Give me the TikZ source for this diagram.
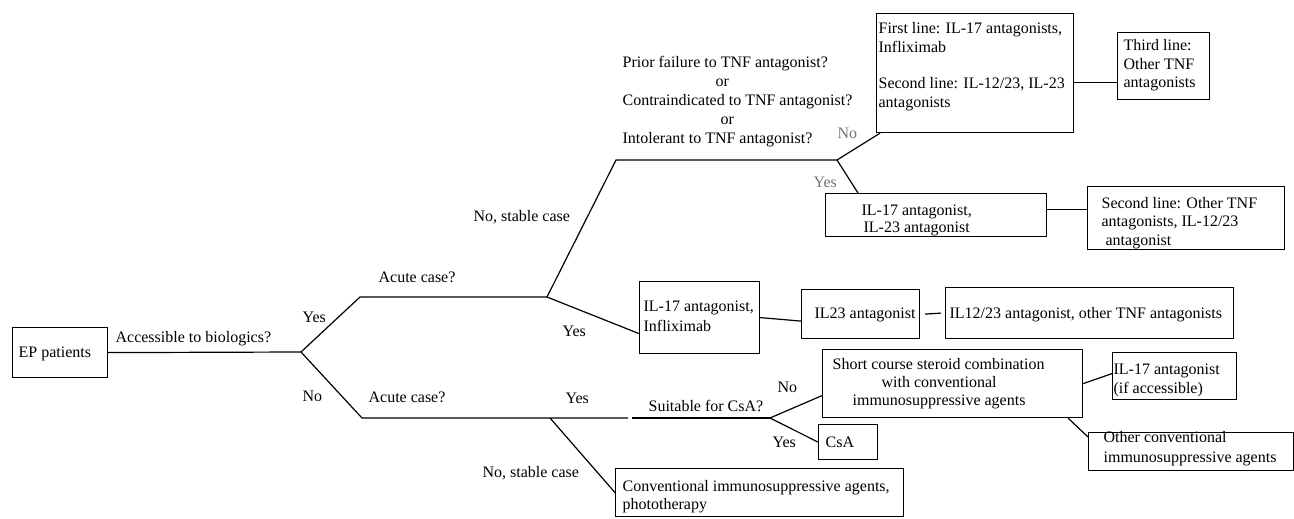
\documentclass[tikz,border=0pt]{standalone}
\usepackage{fontspec}
\setmainfont{Liberation Serif}
\begin{document}
\begin{tikzpicture}[x=1pt, y=-1pt, line width=1.2pt,
  frame/.style={draw, inner sep=0, anchor=north west},
  txt/.style={inner sep=0, anchor=base west, align=left, font=\fontsize{16}{19}\selectfont},
  faint/.style={text=black!55}]
\useasboundingbox (0,0) rectangle (1294,519);

% boxes
\node[frame, minimum width=95pt, minimum height=50pt] (ep) at (12,327) {};
\node[frame, minimum width=120pt, minimum height=72pt] (ila) at (639,281) {};
\node[frame, minimum width=118pt, minimum height=49pt] (il23) at (801,289) {};
\node[frame, minimum width=288pt, minimum height=51pt] (il1223) at (945,287) {};
\node[frame, minimum width=197pt, minimum height=119pt] (first) at (876,13) {};
\node[frame, minimum width=92pt, minimum height=67pt] (third) at (1117,32) {};
\node[frame, minimum width=221pt, minimum height=43pt] (il17il23) at (825,193) {};
\node[frame, minimum width=197pt, minimum height=63pt] (second) at (1087,186) {};
\node[frame, minimum width=260pt, minimum height=68pt] (short) at (822,349) {};
\node[frame, minimum width=59pt, minimum height=35pt] (csa) at (818,424) {};
\node[frame, minimum width=124pt, minimum height=47pt] (il17acc) at (1112,352) {};
\node[frame, minimum width=205pt, minimum height=38pt] (otherconv) at (1088,432) {};
\node[frame, minimum width=288pt, minimum height=48pt] (conv) at (615,468) {};

% box texts (multi-line ones sit on the baseline of their last line)
\node[txt] (tep) at (18,357) {EP patients};
\node[txt, font=\fontsize{16}{20}\selectfont] (tila) at (643,331) {IL-17 antagonist,\\Infliximab};
\node[txt] (til23) at (814,318) {IL23 antagonist};
\node[txt] (til1223) at (949,318) {IL12/23 antagonist, other TNF antagonists};
\node[txt] (tfirst) at (878,107) {First line: IL-17 antagonists,\\Infliximab\\[17pt]Second line: IL-12/23, IL-23\\antagonists};
\node[txt, font=\fontsize{16}{18.5}\selectfont] (tthird) at (1123,88) {Third line:\\Other TNF\\antagonists};
\node[txt, font=\fontsize{16}{17}\selectfont] (til17il23) at (861,232) {IL-17 antagonist,\\\hspace*{2pt}IL-23 antagonist};
\node[txt, font=\fontsize{16}{18.5}\selectfont] (tsecond) at (1101,245) {Second line: Other TNF\\antagonists, IL-12/23\\\hspace*{4pt}antagonist};
\node[txt, font=\fontsize{16}{18}\selectfont] (tshort) at (832,405) {Short course steroid combination\\\hspace*{49pt}with conventional\\\hspace*{20pt}immunosuppressive agents};
\node[txt] (tcsa) at (825,447) {CsA};
\node[txt] (til17acc) at (1113,393) {IL-17 antagonist\\(if accessible)};
\node[txt, font=\fontsize{16}{20}\selectfont] (totherconv) at (1103,462) {Other conventional\\immunosuppressive agents};
\node[txt, font=\fontsize{16}{18}\selectfont] (tconv) at (622,509) {Conventional immunosuppressive agents,\\phototherapy};

% branch points
\coordinate (b1) at (301,352);
\coordinate (a1) at (360,297);
\coordinate (b2) at (547,297);
\coordinate (a2) at (362,418);
\coordinate (b3) at (550,418);
\coordinate (s1) at (616,160);
\coordinate (b4) at (837,160);
\coordinate (c1) at (628,418);
\coordinate (c2) at (632,418);
\coordinate (b5) at (770,418);

% connectors
\draw (ep.east) -- (b1) -- (a1) -- (b2) -- (s1) -- (b4);
\draw (b1) -- (a2) -- (b3) -- (c1);
\draw (c2) -- (b5);
\draw (b2) -- ([yshift=-16pt]ila.west);
\draw (ila.east) -- ([yshift=-7pt]il23.west);
\draw ([xshift=5pt]il23.east) -- ([xshift=-4pt]il1223.west);
\draw (b4) -- ([xshift=4pt]first.south west);
\draw ([yshift=-9.5pt]first.east) -- ([yshift=-16.5pt]third.west);
\draw (b4) -- ([xshift=33pt]il17il23.north west);
\draw ([yshift=5.5pt]il17il23.east) -- ([yshift=8.5pt]second.west);
\draw (b3) -- (conv.west);
\draw (b5) -- ([yshift=-12pt]short.west);
\draw (b5) -- (csa.west);
\draw (short.east) -- ([yshift=2.5pt]il17acc.west);
\draw ([xshift=-15pt]short.south east) -- ([yshift=-5pt]otherconv.north west);

% branch labels
\node[txt] (lacc) at (115,342) {Accessible to biologics?};
\node[txt] (lyes1) at (302,322) {Yes};
\node[txt] (lno1) at (302,401) {No};
\node[txt] (lacute1) at (378,282) {Acute case?};
\node[txt] (lstable1) at (473,221) {No, stable case};
\node[txt] (lyes2) at (562,336) {Yes};
\node[txt] (ltnf) at (622,143) {Prior failure to TNF antagonist?\\\hspace*{93pt}or\\Contraindicated to TNF antagonist?\\\hspace*{98pt}or\\Intolerant to TNF antagonist?};
\node[txt, faint] (lno3) at (837,139) {No};
\node[txt, faint] (lyes3) at (813,187) {Yes};
\node[txt] (lacute2) at (368,402) {Acute case?};
\node[txt] (lyes4) at (565,403) {Yes};
\node[txt] (lcsa) at (648,411) {Suitable for CsA?};
\node[txt] (lno5) at (777,392) {No};
\node[txt] (lyes5) at (772,447) {Yes};
\node[txt] (lstable2) at (482,477) {No, stable case};
\end{tikzpicture}
\end{document}
